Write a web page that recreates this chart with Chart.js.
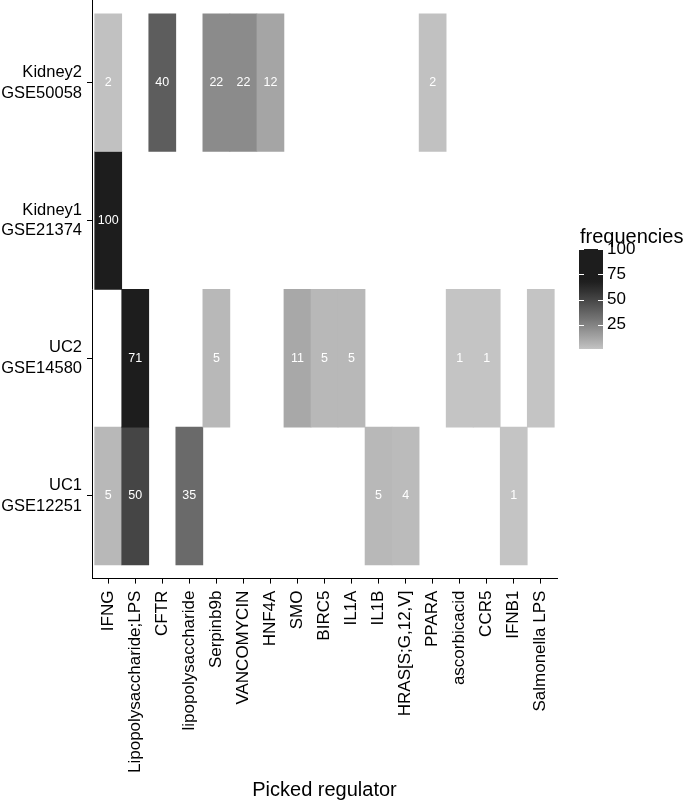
<!DOCTYPE html>
<html lang="en">
<head>
<meta charset="UTF-8">
<title>Picked regulator frequencies</title>
<script src="https://cdn.jsdelivr.net/npm/chart.js@4.4.0/dist/chart.umd.min.js"></script>
<style>
body { margin: 0; background: #fff; }
#wrap { width: 685px; height: 802px; }
</style>
</head>
<body>
<div id="wrap"><canvas id="heat" width="685" height="802"></canvas></div>
<script>
// x categories, left to right
const regulators = ['IFNG', 'Lipopolysaccharide;LPS', 'CFTR', 'lipopolysaccharide', 'Serpinb9b',
  'VANCOMYCIN', 'HNF4A', 'SMO', 'BIRC5', 'IL1A', 'IL1B', 'HRAS[S;G,12,V]', 'PPARA',
  'ascorbicacid', 'CCR5', 'IFNB1', 'Salmonella LPS'];

// y categories, bottom to top
const studyNames = ['UC1', 'UC2', 'Kidney1', 'Kidney2'];
const studyIds = ['GSE12251', 'GSE14580', 'GSE21374', 'GSE50058'];

// frequencies per study, one entry per regulator (null = no tile)
const freqUC1     = [5, 50, null, 35, null, null, null, null, null, null, 5, 4, null, null, null, 1, null];
const freqUC2     = [null, 71, null, null, 5, null, null, 11, 5, 5, null, null, null, 1, 1, null, 1];
const freqKidney1 = [100, null, null, null, null, null, null, null, null, null, null, null, null, null, null, null, null];
const freqKidney2 = [2, null, 40, null, 22, 22, 12, null, null, null, null, null, 2, null, null, null, null];

// tiles drawn without a number in the original ([study, regulator])
const noLabel = [[1, 16]];

const legendBreaks = [25, 50, 75, 100];

const rows = [freqUC1, freqUC2, freqKidney1, freqKidney2];
const tiles = [];
rows.forEach((row, r) => {
  row.forEach((v, c) => {
    if (v === null) return;
    const hide = noLabel.some(p => p[0] === r && p[1] === c);
    tiles.push({ x: c, y: [r - 0.5, r + 0.5], v: v, hide: hide });
  });
});
const allVals = tiles.map(t => t.v);
const vMin = Math.min(...allVals), vMax = Math.max(...allVals);

// grey ramp, lightness linear in value (Lab-like)
function greyFor(v) {
  const t = (v - vMin) / (vMax - vMin);
  const L = Math.max(11, 79 - 100 * t);
  const Y = Math.pow((L + 16) / 116, 3);
  const s = Y <= 0.0031308 ? 12.92 * Y : 1.055 * Math.pow(Y, 1 / 2.4) - 0.055;
  const g = Math.round(s * 255);
  return 'rgb(' + g + ',' + g + ',' + g + ')';
}

const FONT = '"Liberation Sans", Arial, Helvetica, sans-serif';
Chart.defaults.font.family = FONT;

const cellText = {
  id: 'cellText',
  afterDatasetsDraw(chart) {
    const ctx = chart.ctx;
    const meta = chart.getDatasetMeta(0);
    ctx.save();
    ctx.fillStyle = '#ffffff';
    ctx.font = '12.5px ' + FONT;
    ctx.textAlign = 'center';
    ctx.textBaseline = 'middle';
    meta.data.forEach((bar, i) => {
      const d = tiles[i];
      if (d.hide) return;
      ctx.fillText(String(d.v), bar.x, (bar.y + bar.base) / 2);
    });
    ctx.restore();
  }
};

const colourBar = {
  id: 'colourBar',
  afterDraw(chart) {
    const ctx = chart.ctx;
    const x0 = 579, w = 24, top = 249, h = 100;
    const yOf = v => top + h * (vMax - v) / (vMax - vMin);
    ctx.save();
    const grad = ctx.createLinearGradient(0, top + h, 0, top);
    for (let k = 0; k <= 30; k++) {
      grad.addColorStop(k / 30, greyFor(vMin + (vMax - vMin) * k / 30));
    }
    ctx.fillStyle = grad;
    ctx.fillRect(x0, top, w, h);

    ctx.strokeStyle = '#ffffff';
    ctx.lineWidth = 1;
    ctx.fillStyle = '#000000';
    ctx.font = '17px ' + FONT;
    ctx.textAlign = 'left';
    ctx.textBaseline = 'middle';
    legendBreaks.forEach(b => {
      const y = Math.round(yOf(b)) + 0.5;
      ctx.beginPath();
      ctx.moveTo(x0, y); ctx.lineTo(x0 + 5, y);
      ctx.moveTo(x0 + w - 5, y); ctx.lineTo(x0 + w, y);
      ctx.stroke();
      ctx.fillText(String(b), x0 + w + 4, yOf(b));
    });

    ctx.font = '20px ' + FONT;
    ctx.textBaseline = 'alphabetic';
    ctx.fillText('frequencies', 580, 243);
    ctx.restore();
  }
};

new Chart(document.getElementById('heat'), {
  type: 'bar',
  data: {
    datasets: [{
      data: tiles,
      backgroundColor: c => (c.raw ? greyFor(c.raw.v) : '#cccccc'),
      borderWidth: 0,
      categoryPercentage: 1,
      barPercentage: 1
    }]
  },
  options: {
    responsive: false,
    animation: false,
    layout: { padding: { top: 0, right: 128, bottom: 0, left: 0 } },
    plugins: { legend: { display: false }, tooltip: { enabled: false } },
    scales: {
      x: {
        type: 'linear',
        min: -0.6,
        max: 16.6,
        offset: false,
        grid: { display: true, offset: false, drawOnChartArea: false, drawTicks: true, tickLength: 5, color: '#000' },
        border: { display: true, color: '#000', width: 1 },
        ticks: {
          stepSize: 1,
          includeBounds: false,
          autoSkip: false,
          minRotation: 90,
          maxRotation: 90,
          padding: 7,
          color: '#000',
          font: { size: 17 },
          callback: v => (regulators[v] !== undefined ? regulators[v] : '')
        },
        title: { display: true, text: 'Picked regulator', color: '#000', font: { size: 20 }, padding: 0 },
        afterFit: s => { s.height = 223.4; s.paddingLeft = 0; s.paddingRight = 0; }
      },
      y: {
        type: 'linear',
        min: -0.6,
        max: 3.6,
        grid: { display: true, offset: false, drawOnChartArea: false, drawTicks: true, tickLength: 5, color: '#000' },
        border: { display: true, color: '#000', width: 1 },
        ticks: {
          stepSize: 1,
          includeBounds: false,
          padding: 5,
          color: '#000',
          font: { size: 16.5, lineHeight: 1.25 },
          callback: v => (studyNames[v] !== undefined ? [studyNames[v], studyIds[v]] : '')
        },
        afterFit: s => { s.width = 92; s.paddingTop = 0; s.paddingBottom = 0; }
      }
    }
  },
  plugins: [cellText, colourBar]
});
</script>
</body>
</html>
